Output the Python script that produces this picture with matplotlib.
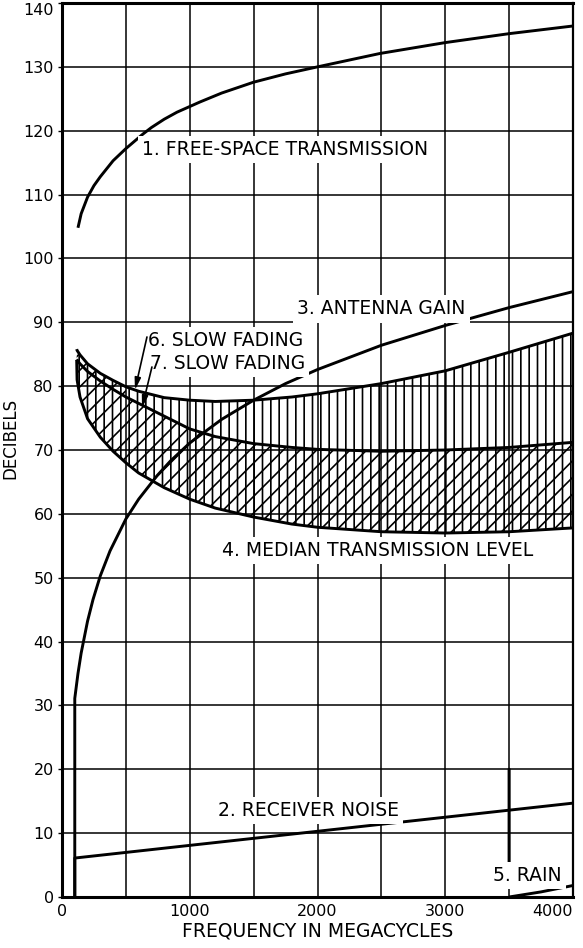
import matplotlib.pyplot as plt
from matplotlib.ticker import MultipleLocator

# ---------------------------------------------------------------------------
# Values (frequency in Mc, level in dB)
# ---------------------------------------------------------------------------
free_space_x = [125, 150, 200, 250, 300, 400, 500, 635, 700, 800, 900, 1080, 1250, 1500,
                1750, 2000, 2490, 3000, 3500, 4000]
free_space_y = [104.8, 107.0, 109.6, 111.4, 112.8, 115.3, 117.2, 119.5, 120.5, 121.8, 122.9,
                124.5, 125.9, 127.6, 128.9, 130.0, 132.1, 133.8, 135.2, 136.4]

noise_x = [100, 100, 4000]
noise_y = [0, 6.1, 14.7]

antenna_x = [100, 100, 125, 150, 200, 243, 300, 376, 500, 600, 745, 850, 1000, 1250, 1500,
             1750, 2000, 2500, 3000, 3500, 4000]
antenna_y = [0, 31.1, 35.0, 38.2, 43.2, 46.6, 50.3, 54.2, 59.2, 62.3, 66.0, 68.3, 71.1, 74.8,
             77.8, 80.4, 82.6, 86.4, 89.5, 92.3, 94.8]

band_x = [115, 118, 141, 200, 300, 400, 500, 600, 800, 1000, 1200, 1500, 1800, 2000, 2500,
          3000, 3500, 4000]
fading_6 = [85.8, 85.6, 84.9, 83.5, 82.0, 80.9, 79.9, 79.2, 78.2, 77.8, 77.6, 77.8, 78.3, 78.8,
            80.4, 82.4, 85.3, 88.3]
fading_7 = [84.2, 84.1, 83.5, 82.3, 80.8, 79.5, 78.3, 77.3, 75.3, 73.3, 72.1, 71.0, 70.4, 70.1,
            69.8, 70.0, 70.4, 71.2]
median_level = [84.1, 81.0, 78.3, 74.9, 72.0, 69.8, 68.0, 66.4, 64.1, 62.3, 60.9, 59.5, 58.4,
                57.9, 57.2, 57.0, 57.2, 57.8]

rain_x = [3500, 3750, 4000]
rain_y = [0, 0.8, 1.8]

x_ticks = [0, 1000, 2000, 3000, 4000]
y_ticks = list(range(0, 141, 10))

# ---------------------------------------------------------------------------
# Figure
# ---------------------------------------------------------------------------
plt.rcParams["hatch.linewidth"] = 1.2
plt.rcParams["font.family"] = ["DejaVu Sans"]

fig = plt.figure(figsize=(5.83, 9.48), dpi=100)
ax = fig.add_axes([62 / 583, 51 / 948, 511 / 583, 894 / 948])
ax.set_xlim(0, 4000)
ax.set_ylim(0, 140)

ax.set_xticks(x_ticks)
ax.set_xticklabels([str(v) for v in x_ticks])
ax.xaxis.set_minor_locator(MultipleLocator(500))
ax.set_yticks(y_ticks)
ax.set_yticklabels([str(v) for v in y_ticks])
ax.grid(True, which="both", color="black", linewidth=1.1, zorder=0)
ax.set_axisbelow(True)
ax.tick_params(axis="x", length=0, labelsize=11.5, pad=5, which="both")
ax.tick_params(axis="y", length=3, width=1, labelsize=11.5, pad=3)
ax.get_xticklabels()[-1].set_horizontalalignment("right")
ax.get_yticklabels()[-1].set_verticalalignment("top")

for side, lw in [("left", 2.2), ("bottom", 2.2), ("top", 2.2), ("right", 1.6)]:
    ax.spines[side].set_linewidth(lw)

ax.set_xlabel("FREQUENCY IN MEGACYCLES", fontsize=13.5, labelpad=2)
ax.set_ylabel("DECIBELS", fontsize=12)
ax.yaxis.set_label_coords(-0.083, 0.513)

# hatched fading bands
ax.fill_between(band_x, fading_6, median_level, facecolor="none",
                edgecolor="black", hatch="||", linewidth=0, zorder=2)
ax.fill_between(band_x, fading_7, median_level, facecolor="none",
                edgecolor="black", hatch="//", linewidth=0, zorder=2)
ax.fill_between(band_x, fading_6, fading_7, where=[x <= 550 for x in band_x],
                facecolor="none", edgecolor="black", hatch="//", linewidth=0, zorder=2)

curve_kw = dict(color="black", linewidth=2.1, solid_capstyle="butt", zorder=3)
ax.plot(free_space_x, free_space_y, **curve_kw)
ax.plot(noise_x, noise_y, **curve_kw)
ax.plot(antenna_x, antenna_y, **curve_kw)
ax.plot(band_x, fading_6, **curve_kw)
ax.plot(band_x, fading_7, **curve_kw)
ax.plot(band_x, median_level, **curve_kw)
ax.plot(rain_x, rain_y, **curve_kw)

# labels
box = dict(facecolor="white", edgecolor="none", pad=3)
label_kw = dict(fontsize=13.5, ha="left", va="center", zorder=5)
ax.text(626, 117, "1. FREE-SPACE TRANSMISSION", bbox=box, **label_kw)
ax.text(1840, 92.1, "3. ANTENNA GAIN", bbox=box, **label_kw)
ax.text(673, 87.2, "6. SLOW FADING", bbox=box, **label_kw)
ax.text(689, 83.5, "7. SLOW FADING", bbox=box, **label_kw)
ax.text(1252, 54.3, "4. MEDIAN TRANSMISSION LEVEL", bbox=box, **label_kw)
ax.text(1222, 13.6, "2. RECEIVER NOISE", bbox=box, **label_kw)
ax.text(3375, 3.4, "5. RAIN", bbox=box, **label_kw)

arrow = dict(arrowstyle="-|>,head_length=0.7,head_width=0.18", color="black", lw=1.2,
             shrinkA=0, shrinkB=0)
ax.annotate("", xy=(571, 79.4), xytext=(665, 87.7), arrowprops=arrow, zorder=6)
ax.annotate("", xy=(626, 76.6), xytext=(704, 83.0), arrowprops=arrow, zorder=6)
ax.annotate("", xy=(3500, 20), xytext=(3500, 5.5),
            arrowprops=dict(arrowstyle="-", color="black", lw=2.2, shrinkA=0, shrinkB=0))

fig.savefig("out.png", dpi=100)
